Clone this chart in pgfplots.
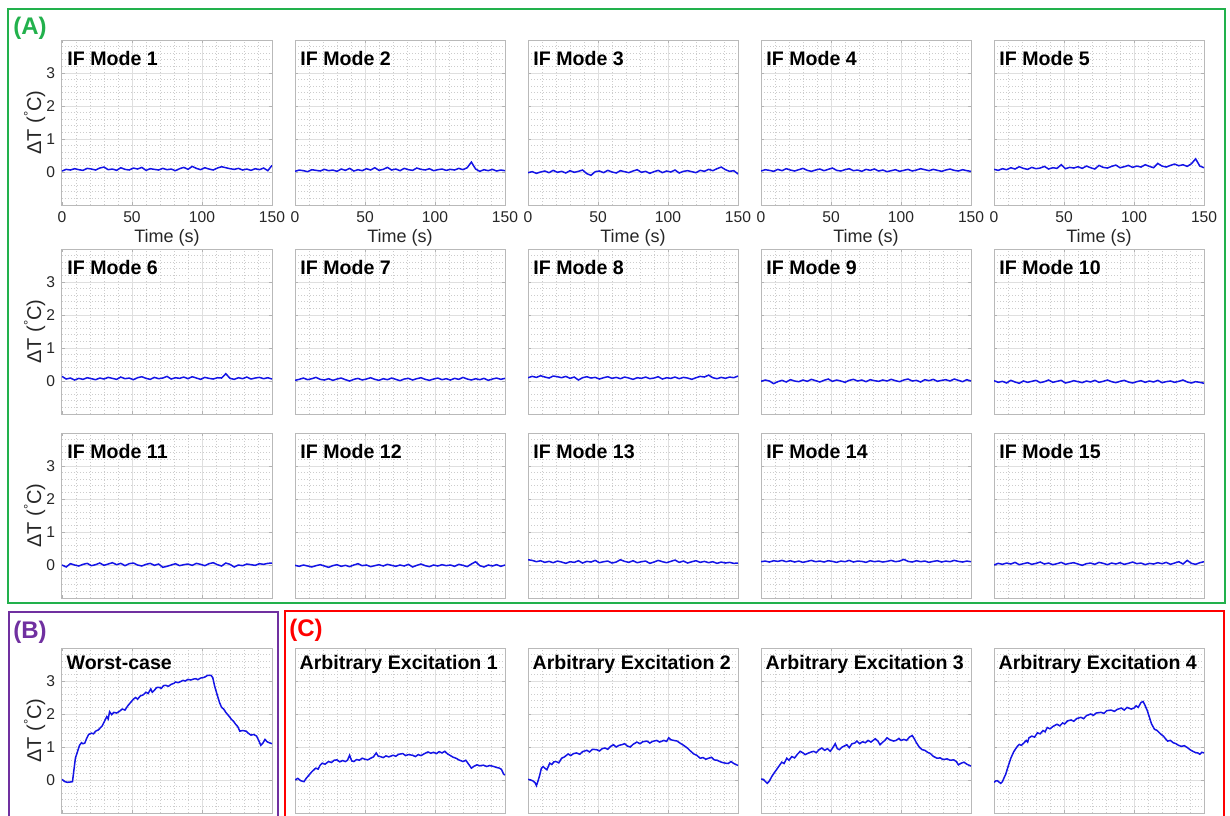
\documentclass[border=0pt]{standalone}
\usepackage{fontspec}
\setmainfont{Liberation Sans}
\usepackage{pgfplots}
\pgfplotsset{compat=1.18}
\definecolor{gbox}{RGB}{34,177,76}
\definecolor{pbox}{RGB}{112,48,160}
\definecolor{rbox}{RGB}{255,0,0}
\definecolor{tk}{RGB}{38,38,38}
\definecolor{sig}{RGB}{20,20,230}
\pgfplotsset{
 panel/.style={
  scale only axis, width=105pt, height=82.5pt,
  xmin=0, xmax=150, ymin=-1, ymax=4,
  xtick={0,50,100,150}, ytick={-1,0,1,2,3,4},
  minor x tick num=4, minor y tick num=4,
  grid=both,
  major grid style={draw=gray!25, line width=0.5pt},
  minor grid style={draw=gray!40, dash pattern=on 0.6pt off 0.9pt, line width=0.45pt},
  axis line style={draw=gray!55, line width=0.5pt},
  major tick length=1.3pt, minor tick length=0pt,
  tick style={draw=gray!60},
  tick align=inside,
  xticklabels={}, yticklabels={},
  tick label style={font=\fontsize{7.8}{9}\selectfont, text=tk},
  /pgf/number format/assume math mode=true,
  anchor=north west,
  clip mode=individual,
 },
 ylab/.style={yticklabels={,0,1,2,3,},
  ylabel={ΔT (\raisebox{0.75ex}{\fontsize{6.5}{6.5}\selectfont °}C)},
  ylabel style={at={(rel axis cs:-0.13,0.5)}, anchor=center, font=\fontsize{10}{11}\selectfont, text=tk}},
 xlab/.style={xticklabels={0,50,100,150}, xlabel={Time (s)},
  xlabel style={at={(rel axis cs:0.5,0)}, anchor=center, yshift=-16.5pt, font=\fontsize{9}{10}\selectfont, text=tk}},
 sig/.style={draw=sig, line width=0.75pt, no marks},
}
\newcommand{\ttl}[1]{\node[anchor=base west, inner sep=0pt, font=\bfseries\fontsize{9.8}{11}\selectfont] at (rel axis cs:0.024,0.845) {#1};}
\newcommand{\ttlb}[1]{\node[anchor=base west, inner sep=0pt, font=\bfseries\fontsize{9.8}{11}\selectfont] at (rel axis cs:0.02,0.868) {#1};}
\begin{document}
\begin{tikzpicture}
\useasboundingbox (0,0) rectangle (615pt,-407.5pt);
\fill[white] (0,0) rectangle (615pt,-407.5pt);
% boxes
\draw[gbox, line width=1pt] (4pt,-4.5pt) rectangle (612.5pt,-301.5pt);
\draw[pbox, line width=1pt] (4.25pt,-306pt) rectangle (139pt,-420pt);
\draw[rbox, line width=1pt] (142.5pt,-305.5pt) rectangle (612pt,-420pt);
\node[gbox, font=\bfseries\fontsize{12}{13}\selectfont] at (15pt,-14pt) {(A)};
\node[pbox, font=\bfseries\fontsize{12}{13}\selectfont] at (15pt,-316pt) {(B)};
\node[rbox, font=\bfseries\fontsize{12}{13}\selectfont] at (153pt,-315pt) {(C)};

% ===== Row 1 =====
\begin{axis}[panel, ylab, xlab, at={(31pt,-20pt)}]
\addplot[sig] coordinates {(0,0.03)(3,0.08)(6,0.06)(9,0.10)(12,0.07)(15,0.05)(18,0.11)(21,0.09)(24,0.06)(27,0.12)(30,0.15)(33,0.07)(36,0.09)(39,0.05)(42,0.13)(45,0.08)(48,0.06)(51,0.12)(54,0.09)(57,0.14)(60,0.05)(63,0.10)(66,0.08)(69,0.06)(72,0.11)(75,0.07)(78,0.09)(81,0.04)(84,0.10)(87,0.14)(90,0.08)(93,0.17)(96,0.11)(99,0.07)(102,0.13)(105,0.09)(108,0.06)(111,0.12)(114,0.16)(117,0.13)(120,0.10)(123,0.08)(126,0.11)(129,0.06)(132,0.09)(135,0.05)(138,0.10)(141,0.07)(144,0.12)(147,0.04)(150,0.20)};
\ttl{IF Mode 1}
\end{axis}
\begin{axis}[panel, xlab, at={(147.5pt,-20pt)}]
\addplot[sig] coordinates {(0,0.02)(3,0.06)(6,0.04)(9,0.01)(12,0.07)(15,0.05)(18,0.03)(21,0.08)(24,0.04)(27,0.06)(30,0.02)(33,0.09)(36,0.05)(39,0.11)(42,0.03)(45,0.07)(48,0.04)(51,0.10)(54,0.06)(57,0.13)(60,0.05)(63,0.08)(66,0.14)(69,0.06)(72,0.09)(75,0.04)(78,0.11)(81,0.07)(84,0.05)(87,0.12)(90,0.08)(93,0.06)(96,0.10)(99,0.04)(102,0.07)(105,0.09)(108,0.05)(111,0.08)(114,0.06)(117,0.11)(120,0.07)(123,0.13)(126,0.30)(129,0.09)(132,0.02)(135,0.07)(138,0.04)(141,0.08)(144,0.03)(147,0.06)(150,0.04)};
\ttl{IF Mode 2}
\end{axis}
\begin{axis}[panel, xlab, at={(264pt,-20pt)}]
\addplot[sig] coordinates {(0,-0.02)(3,0.01)(6,-0.04)(9,0.00)(12,0.03)(15,-0.02)(18,0.05)(21,-0.01)(24,0.02)(27,-0.03)(30,0.04)(33,-0.01)(36,0.02)(39,0.06)(42,-0.05)(45,-0.10)(48,0.01)(51,0.03)(54,-0.02)(57,0.05)(60,0.00)(63,-0.03)(66,0.04)(69,0.01)(72,-0.02)(75,0.03)(78,0.07)(81,-0.01)(84,0.02)(87,-0.04)(90,0.01)(93,0.05)(96,-0.02)(99,0.03)(102,0.00)(105,0.06)(108,-0.03)(111,0.02)(114,0.04)(117,0.01)(120,-0.02)(123,0.05)(126,0.02)(129,0.08)(132,0.04)(135,0.10)(138,0.15)(141,0.07)(144,0.02)(147,0.04)(150,-0.06)};
\ttl{IF Mode 3}
\end{axis}
\begin{axis}[panel, xlab, at={(380.5pt,-20pt)}]
\addplot[sig] coordinates {(0,0.03)(3,0.07)(6,0.05)(9,0.02)(12,0.08)(15,0.04)(18,0.10)(21,0.06)(24,0.03)(27,0.07)(30,0.11)(33,0.05)(36,0.02)(39,0.06)(42,0.09)(45,0.04)(48,0.08)(51,0.12)(54,0.05)(57,0.03)(60,0.07)(63,0.10)(66,0.04)(69,0.06)(72,0.02)(75,0.08)(78,0.05)(81,0.09)(84,0.03)(87,0.06)(90,0.01)(93,0.04)(96,0.07)(99,0.02)(102,0.05)(105,0.08)(108,0.03)(111,0.06)(114,0.10)(117,0.07)(120,0.04)(123,0.08)(126,0.05)(129,0.02)(132,0.06)(135,0.09)(138,0.05)(141,0.03)(144,0.07)(147,0.04)(150,0.02)};
\ttl{IF Mode 4}
\end{axis}
\begin{axis}[panel, xlab, at={(497pt,-20pt)}]
\addplot[sig] coordinates {(0,0.08)(3,0.05)(6,0.10)(9,0.07)(12,0.13)(15,0.09)(18,0.16)(21,0.11)(24,0.08)(27,0.14)(30,0.10)(33,0.12)(36,0.17)(39,0.09)(42,0.13)(45,0.11)(48,0.22)(51,0.10)(54,0.14)(57,0.12)(60,0.16)(63,0.11)(66,0.18)(69,0.13)(72,0.09)(75,0.20)(78,0.14)(81,0.12)(84,0.17)(87,0.21)(90,0.13)(93,0.16)(96,0.20)(99,0.14)(102,0.18)(105,0.15)(108,0.22)(111,0.17)(114,0.13)(117,0.26)(120,0.18)(123,0.15)(126,0.20)(129,0.24)(132,0.19)(135,0.22)(138,0.17)(141,0.25)(144,0.40)(147,0.18)(150,0.13)};
\ttl{IF Mode 5}
\end{axis}

% ===== Row 2 =====
\begin{axis}[panel, ylab, at={(31pt,-124.5pt)}]
\addplot[sig] coordinates {(0,0.14)(3,0.06)(6,0.09)(9,0.03)(12,0.08)(15,0.05)(18,0.10)(21,0.07)(24,0.04)(27,0.09)(30,0.06)(33,0.11)(36,0.08)(39,0.05)(42,0.12)(45,0.07)(48,0.09)(51,0.04)(54,0.10)(57,0.13)(60,0.08)(63,0.05)(66,0.11)(69,0.07)(72,0.09)(75,0.14)(78,0.06)(81,0.10)(84,0.08)(87,0.12)(90,0.07)(93,0.13)(96,0.09)(99,0.05)(102,0.11)(105,0.08)(108,0.06)(111,0.10)(114,0.09)(117,0.22)(120,0.08)(123,0.05)(126,0.10)(129,0.07)(132,0.12)(135,0.06)(138,0.09)(141,0.11)(144,0.07)(147,0.10)(150,0.06)};
\ttl{IF Mode 6}
\end{axis}
\begin{axis}[panel, at={(147.5pt,-124.5pt)}]
\addplot[sig] coordinates {(0,0.02)(3,0.05)(6,0.09)(9,0.04)(12,0.07)(15,0.11)(18,0.05)(21,0.03)(24,0.07)(27,0.02)(30,0.06)(33,0.09)(36,0.04)(39,0.00)(42,0.05)(45,0.08)(48,0.03)(51,0.06)(54,0.10)(57,0.05)(60,0.02)(63,0.07)(66,0.04)(69,0.09)(72,0.05)(75,0.01)(78,0.06)(81,0.08)(84,0.03)(87,0.07)(90,0.10)(93,0.05)(96,0.02)(99,0.06)(102,0.09)(105,0.04)(108,0.07)(111,0.03)(114,0.08)(117,0.05)(120,0.11)(123,0.06)(126,0.03)(129,0.07)(132,0.04)(135,0.08)(138,0.02)(141,0.06)(144,0.09)(147,0.05)(150,0.08)};
\ttl{IF Mode 7}
\end{axis}
\begin{axis}[panel, at={(264pt,-124.5pt)}]
\addplot[sig] coordinates {(0,0.10)(3,0.14)(6,0.11)(9,0.16)(12,0.12)(15,0.09)(18,0.15)(21,0.13)(24,0.10)(27,0.14)(30,0.08)(33,0.12)(36,0.03)(39,0.10)(42,0.13)(45,0.09)(48,0.11)(51,0.06)(54,0.10)(57,0.13)(60,0.08)(63,0.11)(66,0.07)(69,0.12)(72,0.09)(75,0.05)(78,0.10)(81,0.08)(84,0.12)(87,0.07)(90,0.09)(93,0.13)(96,0.06)(99,0.10)(102,0.08)(105,0.12)(108,0.07)(111,0.11)(114,0.09)(117,0.05)(120,0.10)(123,0.14)(126,0.12)(129,0.18)(132,0.10)(135,0.07)(138,0.11)(141,0.08)(144,0.12)(147,0.10)(150,0.15)};
\ttl{IF Mode 8}
\end{axis}
\begin{axis}[panel, at={(380.5pt,-124.5pt)}]
\addplot[sig] coordinates {(0,-0.01)(3,0.03)(6,0.00)(9,-0.08)(12,-0.02)(15,0.02)(18,-0.03)(21,0.04)(24,0.00)(27,-0.02)(30,0.03)(33,-0.01)(36,0.05)(39,0.01)(42,-0.03)(45,0.02)(48,0.06)(51,-0.01)(54,0.03)(57,0.00)(60,-0.04)(63,0.02)(66,0.05)(69,0.00)(72,0.03)(75,-0.02)(78,0.04)(81,0.01)(84,-0.01)(87,0.03)(90,0.00)(93,0.05)(96,0.01)(99,-0.02)(102,0.03)(105,0.06)(108,0.00)(111,0.02)(114,-0.03)(117,0.04)(120,0.01)(123,0.05)(126,-0.01)(129,0.02)(132,0.04)(135,0.00)(138,0.06)(141,0.02)(144,-0.02)(147,0.04)(150,0.00)};
\ttl{IF Mode 9}
\end{axis}
\begin{axis}[panel, at={(497pt,-124.5pt)}]
\addplot[sig] coordinates {(0,0.01)(3,-0.04)(6,-0.01)(9,-0.06)(12,0.02)(15,-0.03)(18,-0.07)(21,0.00)(24,-0.04)(27,-0.01)(30,0.02)(33,-0.05)(36,-0.02)(39,0.03)(42,-0.04)(45,-0.01)(48,0.02)(51,-0.06)(54,-0.03)(57,0.01)(60,-0.02)(63,-0.05)(66,0.00)(69,-0.03)(72,0.02)(75,-0.04)(78,-0.01)(81,0.03)(84,-0.02)(87,-0.05)(90,-0.01)(93,0.02)(96,-0.03)(99,-0.06)(102,-0.02)(105,0.01)(108,-0.04)(111,0.00)(114,-0.03)(117,0.02)(120,-0.05)(123,-0.02)(126,0.00)(129,-0.04)(132,-0.01)(135,0.03)(138,-0.03)(141,-0.06)(144,-0.02)(147,-0.04)(150,-0.07)};
\ttl{IF Mode 10}
\end{axis}

% ===== Row 3 =====
\begin{axis}[panel, ylab, at={(31pt,-216.5pt)}]
\addplot[sig] coordinates {(0,0.00)(3,-0.06)(6,0.04)(9,0.00)(12,-0.03)(15,0.02)(18,0.05)(21,-0.02)(24,0.01)(27,0.06)(30,-0.01)(33,0.03)(36,0.07)(39,0.01)(42,0.05)(45,-0.02)(48,0.04)(51,0.06)(54,0.00)(57,-0.03)(60,0.02)(63,0.05)(66,-0.01)(69,0.03)(72,-0.07)(75,-0.04)(78,0.00)(81,0.04)(84,-0.02)(87,0.01)(90,0.03)(93,-0.01)(96,0.05)(99,0.02)(102,-0.02)(105,0.04)(108,0.07)(111,0.01)(114,-0.03)(117,0.06)(120,0.02)(123,-0.06)(126,0.00)(129,-0.02)(132,0.03)(135,0.01)(138,-0.01)(141,0.04)(144,0.02)(147,0.05)(150,0.06)};
\ttl{IF Mode 11}
\end{axis}
\begin{axis}[panel, at={(147.5pt,-216.5pt)}]
\addplot[sig] coordinates {(0,-0.01)(3,-0.04)(6,0.00)(9,-0.03)(12,-0.06)(15,-0.02)(18,0.01)(21,-0.03)(24,-0.07)(27,-0.02)(30,0.01)(33,-0.04)(36,-0.01)(39,-0.05)(42,0.00)(45,0.04)(48,-0.02)(51,0.00)(54,-0.05)(57,-0.02)(60,0.01)(63,-0.03)(66,0.02)(69,-0.01)(72,-0.04)(75,0.00)(78,-0.03)(81,0.02)(84,-0.06)(87,-0.01)(90,0.03)(93,-0.02)(96,-0.05)(99,0.00)(102,-0.03)(105,0.01)(108,-0.02)(111,0.00)(114,-0.04)(117,0.02)(120,-0.01)(123,-0.05)(126,0.03)(129,0.10)(132,-0.02)(135,-0.06)(138,0.00)(141,-0.03)(144,0.01)(147,-0.04)(150,0.00)};
\ttl{IF Mode 12}
\end{axis}
\begin{axis}[panel, at={(264pt,-216.5pt)}]
\addplot[sig] coordinates {(0,0.16)(3,0.14)(6,0.10)(9,0.13)(12,0.08)(15,0.11)(18,0.07)(21,0.12)(24,0.09)(27,0.05)(30,0.10)(33,0.08)(36,0.13)(39,0.06)(42,0.11)(45,0.09)(48,0.14)(51,0.07)(54,0.10)(57,0.12)(60,0.06)(63,0.09)(66,0.16)(69,0.11)(72,0.08)(75,0.13)(78,0.07)(81,0.10)(84,0.12)(87,0.05)(90,0.09)(93,0.14)(96,0.10)(99,0.07)(102,0.11)(105,0.15)(108,0.08)(111,0.12)(114,0.06)(117,0.10)(120,0.13)(123,0.08)(126,0.11)(129,0.07)(132,0.10)(135,0.05)(138,0.09)(141,0.06)(144,0.08)(147,0.05)(150,0.06)};
\ttl{IF Mode 13}
\end{axis}
\begin{axis}[panel, at={(380.5pt,-216.5pt)}]
\addplot[sig] coordinates {(0,0.10)(3,0.12)(6,0.09)(9,0.13)(12,0.11)(15,0.14)(18,0.10)(21,0.13)(24,0.09)(27,0.12)(30,0.08)(33,0.11)(36,0.14)(39,0.10)(42,0.12)(45,0.09)(48,0.13)(51,0.11)(54,0.08)(57,0.12)(60,0.10)(63,0.14)(66,0.09)(69,0.12)(72,0.11)(75,0.08)(78,0.13)(81,0.10)(84,0.12)(87,0.09)(90,0.11)(93,0.14)(96,0.10)(99,0.12)(102,0.17)(105,0.11)(108,0.09)(111,0.13)(114,0.10)(117,0.12)(120,0.08)(123,0.11)(126,0.13)(129,0.09)(132,0.12)(135,0.10)(138,0.14)(141,0.11)(144,0.09)(147,0.12)(150,0.10)};
\ttl{IF Mode 14}
\end{axis}
\begin{axis}[panel, at={(497pt,-216.5pt)}]
\addplot[sig] coordinates {(0,0.00)(3,0.05)(6,0.02)(9,0.06)(12,0.03)(15,0.08)(18,0.01)(21,0.04)(24,0.07)(27,0.02)(30,0.05)(33,0.09)(36,0.03)(39,0.06)(42,0.01)(45,0.04)(48,0.08)(51,0.02)(54,0.05)(57,0.07)(60,0.03)(63,-0.01)(66,0.04)(69,0.06)(72,0.02)(75,0.08)(78,0.05)(81,0.01)(84,0.06)(87,0.03)(90,0.07)(93,0.02)(96,0.05)(99,0.09)(102,0.04)(105,0.06)(108,0.01)(111,0.05)(114,0.03)(117,0.07)(120,0.04)(123,0.08)(126,0.02)(129,0.06)(132,0.10)(135,0.03)(138,0.14)(141,0.05)(144,0.02)(147,0.07)(150,0.10)};
\ttl{IF Mode 15}
\end{axis}

% ===== Row 4 =====
\begin{axis}[panel, ylab, at={(31pt,-324pt)}]
\addplot[sig] coordinates {(0,0.02)(2,-0.05)(4,-0.07)(6,-0.06)(7.5,-0.05)(8.5,0.3)(9.6,0.67)(11,0.85)(12.5,1.05)(13.9,1.13)(15,1.1)(16.3,1.12)(17.5,1.25)(19,1.38)(21,1.42)(22.5,1.4)(24,1.48)(26,1.52)(28.7,1.64)(30,1.75)(31,1.84)(32,1.92)(33,1.85)(34,2.07)(35.5,1.98)(37,2.05)(39,2.03)(41,2.08)(43,2.15)(45,2.12)(47,2.25)(49,2.35)(51,2.45)(52.6,2.5)(54,2.45)(56,2.55)(58,2.58)(60,2.66)(61.5,2.62)(63.4,2.76)(64.5,2.66)(66,2.72)(67.5,2.8)(69,2.81)(71,2.78)(72.5,2.86)(74,2.87)(76,2.84)(78,2.9)(80,2.93)(81,2.97)(83,2.95)(85,2.99)(86.5,3.02)(88,3.0)(90,3.05)(92,3.03)(94,3.06)(95.7,3.07)(97,3.04)(99,3.09)(100.5,3.1)(102,3.12)(104,3.17)(106.5,3.17)(107.7,3.1)(109,2.85)(111,2.56)(112.5,2.35)(114,2.2)(115.5,2.15)(117,2.05)(119,1.95)(121,1.84)(122.5,1.78)(124,1.69)(125.5,1.62)(127,1.48)(129,1.5)(131.6,1.48)(133,1.42)(135,1.36)(137,1.38)(139,1.33)(140.5,1.2)(142,1.05)(143.5,1.12)(145,1.23)(146.5,1.16)(148,1.13)(150,1.1)};
\ttlb{Worst-case}
\end{axis}
\begin{axis}[panel, at={(147.5pt,-324pt)}]
\addplot[sig] coordinates {(0,0.0)(2,0.05)(4,-0.02)(6.4,-0.05)(8,0.05)(10,0.15)(12,0.25)(14.8,0.36)(16.5,0.33)(18,0.45)(19.5,0.51)(21.5,0.48)(24,0.56)(26,0.53)(28,0.6)(30,0.61)(32,0.55)(34,0.59)(36,0.56)(37.5,0.6)(39,0.75)(40.5,0.58)(42,0.56)(44,0.62)(46,0.6)(48,0.66)(50,0.63)(52,0.61)(54,0.66)(56,0.7)(58,0.82)(59.5,0.72)(61,0.71)(63,0.68)(65,0.73)(67,0.7)(70,0.75)(72,0.72)(74,0.78)(77,0.8)(79,0.74)(81,0.77)(84,0.75)(86,0.71)(88,0.77)(90,0.74)(92.5,0.8)(95,0.85)(97,0.81)(99,0.84)(101,0.8)(103,0.86)(105,0.82)(107,0.87)(109,0.79)(111,0.74)(113,0.69)(115,0.66)(117,0.61)(120,0.56)(122,0.6)(123.5,0.51)(126,0.36)(128,0.42)(130,0.46)(132,0.43)(134.5,0.45)(137,0.41)(139,0.44)(142,0.41)(144,0.38)(146,0.36)(147.5,0.32)(149,0.18)(150,0.15)};
\ttlb{Arbitrary Excitation 1}
\end{axis}
\begin{axis}[panel, at={(264pt,-324pt)}]
\addplot[sig] coordinates {(0,0.02)(2,0.0)(3.6,-0.03)(5,-0.08)(6,-0.17)(7,-0.05)(8.4,0.15)(9.5,0.35)(10.8,0.41)(12,0.36)(13.5,0.31)(15.5,0.51)(17,0.47)(18.5,0.55)(20,0.56)(22,0.52)(24,0.66)(26,0.7)(28.7,0.79)(30.5,0.74)(32.5,0.8)(34.7,0.82)(37,0.78)(39,0.86)(42,0.9)(44,0.85)(46,0.93)(49,0.92)(51,0.88)(53,0.95)(55,0.97)(57,0.93)(59,1.02)(61,1.07)(63,1.0)(65,1.05)(67,1.07)(69,1.1)(71,1.03)(73,1.0)(75,1.08)(77.8,1.15)(80,1.1)(82,1.16)(85,1.18)(87,1.12)(89,1.17)(92,1.2)(94,1.15)(97,1.2)(99,1.17)(100.5,1.28)(102,1.22)(104,1.2)(106.6,1.18)(108.5,1.12)(110.5,1.07)(113.8,0.97)(116,0.88)(118.4,0.79)(120.5,0.75)(123,0.66)(125,0.68)(127,0.63)(129,0.66)(131,0.69)(133,0.61)(135,0.6)(137.5,0.55)(139,0.53)(141,0.51)(143,0.5)(145,0.56)(147,0.5)(148.5,0.47)(150,0.44)};
\ttlb{Arbitrary Excitation 2}
\end{axis}
\begin{axis}[panel, at={(380.5pt,-324pt)}]
\addplot[sig] coordinates {(0,0.03)(1.7,0.02)(3,-0.04)(4.5,-0.1)(6,-0.03)(7.6,0.1)(9.5,0.22)(11,0.31)(12.5,0.4)(14.8,0.54)(16.5,0.5)(18.4,0.66)(20,0.6)(22,0.71)(24,0.67)(26,0.78)(28,0.87)(30,0.82)(31.5,0.77)(34,0.82)(36,0.85)(37.5,0.87)(39.5,0.83)(41.5,0.92)(43.4,0.97)(45.5,0.9)(47.5,0.95)(49.4,0.87)(51,0.96)(53,1.1)(54.5,0.95)(56,0.92)(58,1.0)(59.5,1.03)(61.3,1.07)(63,0.98)(65,1.1)(67,1.12)(68.5,1.18)(70.5,1.1)(72.5,1.16)(74.5,1.13)(76.5,1.2)(78.5,1.15)(81.6,1.25)(83.5,1.18)(85,1.07)(87,1.15)(88.5,1.2)(90,1.28)(92,1.22)(94.7,1.18)(96.5,1.2)(98.5,1.26)(100,1.2)(102,1.23)(104,1.2)(106,1.3)(108,1.35)(109.5,1.25)(111,1.13)(113,1.0)(115,0.92)(117,0.9)(119,0.84)(121,0.8)(123,0.72)(125.7,0.66)(128,0.67)(130,0.62)(133,0.64)(135,0.6)(137.7,0.61)(139.5,0.56)(141,0.46)(143,0.51)(145,0.54)(147,0.48)(149,0.44)(150,0.42)};
\ttlb{Arbitrary Excitation 3}
\end{axis}
\begin{axis}[panel, at={(497pt,-324pt)}]
\addplot[sig] coordinates {(0,-0.07)(1.2,-0.03)(2.4,-0.02)(3.5,-0.06)(4.8,-0.1)(6,-0.05)(7,0.05)(8.4,0.18)(10,0.4)(12,0.66)(14,0.85)(15.5,0.95)(16.7,1.02)(18,1.08)(19.5,1.05)(21.5,1.13)(23,1.2)(24,1.15)(25,1.28)(27,1.33)(29,1.3)(31,1.43)(33,1.4)(35,1.5)(36.5,1.46)(38,1.59)(40,1.55)(42,1.62)(45,1.69)(47,1.64)(49,1.73)(50.5,1.7)(52.5,1.79)(55,1.82)(57,1.78)(59,1.86)(62,1.9)(64,1.86)(66,1.95)(69,2.0)(71,1.96)(73,2.03)(76.4,2.05)(78.5,2.02)(80.5,2.1)(83.6,2.12)(86,2.08)(88,2.14)(91,2.18)(93,2.12)(95,2.2)(98,2.15)(100,2.18)(101.5,2.25)(103,2.2)(105,2.35)(106.5,2.38)(108,2.25)(109.5,2.1)(111,1.9)(112.5,1.7)(114.6,1.54)(116.5,1.5)(119.4,1.38)(121,1.33)(122.5,1.25)(124,1.18)(126,1.2)(128,1.13)(130,1.1)(131.8,1.05)(133.8,1.02)(136,1.04)(138.5,0.97)(140,0.92)(142,0.87)(144,0.83)(145.6,0.82)(147,0.78)(148.5,0.84)(150,0.82)};
\ttlb{Arbitrary Excitation 4}
\end{axis}
\end{tikzpicture}
\end{document}
